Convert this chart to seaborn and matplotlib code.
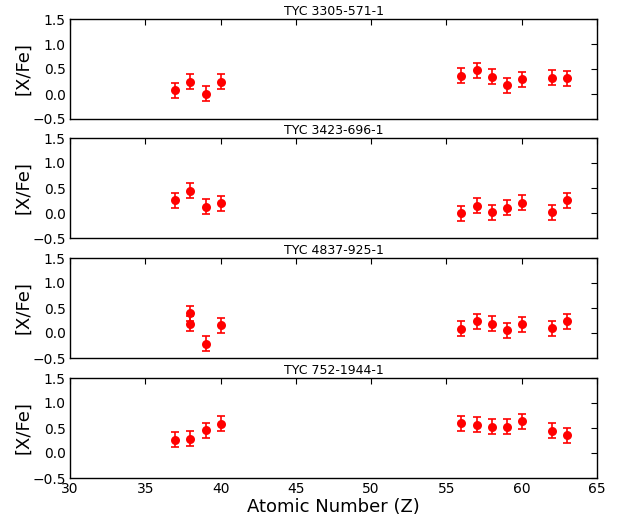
import numpy as np
import pandas as pd
import matplotlib
matplotlib.use("Agg")
import matplotlib.pyplot as plt
import seaborn as sns

stars = ["TYC 3305-571-1", "TYC 3423-696-1", "TYC 4837-925-1", "TYC 752-1944-1"]

z_1 = [37, 38, 39, 40, 56, 57, 58, 59, 60, 62, 63]
xfe_1 = [0.08, 0.25, 0.01, 0.25, 0.37, 0.48, 0.35, 0.18, 0.30, 0.33, 0.32]

z_2 = [37, 38, 39, 40, 56, 57, 58, 59, 60, 62, 63]
xfe_2 = [0.26, 0.45, 0.13, 0.20, 0.00, 0.15, 0.02, 0.11, 0.21, 0.02, 0.26]

z_3 = [38, 38, 39, 40, 56, 57, 58, 59, 60, 62, 63]
xfe_3 = [0.40, 0.19, -0.21, 0.16, 0.09, 0.24, 0.19, 0.06, 0.18, 0.10, 0.24]

z_4 = [37, 38, 39, 40, 56, 57, 58, 59, 60, 62, 63]
xfe_4 = [0.27, 0.29, 0.46, 0.59, 0.60, 0.57, 0.53, 0.53, 0.64, 0.45, 0.36]

err = 0.15

frames = []
for s, z, v in zip(stars, [z_1, z_2, z_3, z_4], [xfe_1, xfe_2, xfe_3, xfe_4]):
    frames.append(pd.DataFrame({"star": s, "Z": z, "xfe": v, "err": err}))
df = pd.concat(frames, ignore_index=True)

sns.set_style("white")
plt.rcParams["font.family"] = ["DejaVu Sans"]
plt.rcParams["text.color"] = "black"
plt.rcParams["axes.labelcolor"] = "black"
plt.rcParams["xtick.color"] = "black"
plt.rcParams["ytick.color"] = "black"

fig = plt.figure(figsize=(6.24, 5.22), dpi=100)
W, H = 624, 522
left, right = 70, 597
tops = [19, 138, 258, 378]
height = 100

for i, s in enumerate(stars):
    t = tops[i]
    ax = fig.add_axes([left / W, 1 - (t + height) / H, (right - left) / W, height / H])
    d = df[df["star"] == s]
    ax.errorbar(d["Z"], d["xfe"], yerr=d["err"], fmt="none", ecolor="red",
                elinewidth=1.2, capsize=3, capthick=1.2, zorder=2)
    sns.scatterplot(data=d, x="Z", y="xfe", ax=ax, color="red", s=42,
                    edgecolor="red", linewidth=0, zorder=3, legend=False)
    ax.set_xlim(30, 65)
    ax.set_ylim(-0.5, 1.5)
    ax.set_xticks([30, 35, 40, 45, 50, 55, 60, 65])
    ax.set_yticks([-0.5, 0.0, 0.5, 1.0, 1.5])
    ax.tick_params(direction="in", top=True, right=True, length=4, width=0.8,
                   labelsize=10, colors="black", pad=3)
    for sp in ax.spines.values():
        sp.set_color("black")
        sp.set_linewidth(1.0)
    ax.set_title(s, fontsize=9, pad=3, color="black")
    ax.set_ylabel("[X/Fe]", fontsize=13, labelpad=0, color="black")
    if i < 3:
        ax.set_xticklabels([])
        ax.set_xlabel("")
    else:
        ax.set_xlabel("Atomic Number (Z)", fontsize=13, labelpad=1, color="black")

fig.savefig("out.png", dpi=100)
